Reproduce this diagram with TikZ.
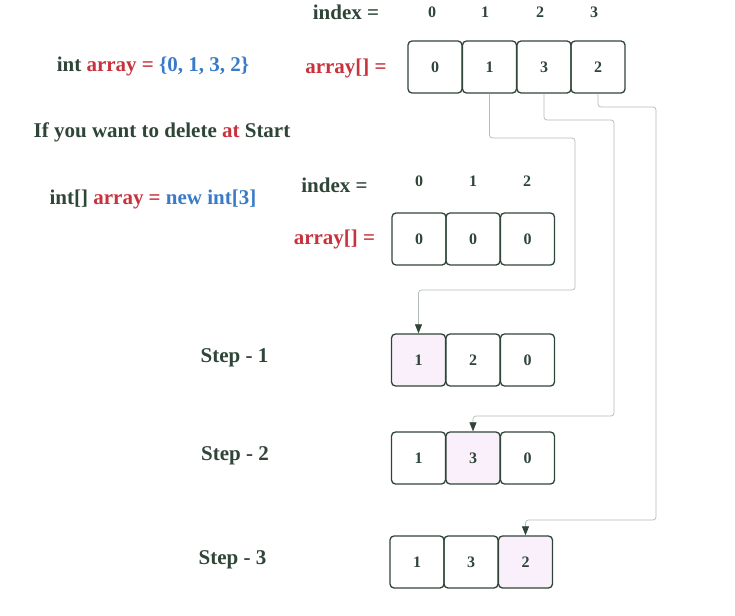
\documentclass[tikz,border=0pt]{standalone}
\usepackage{fontspec}
\setmainfont{Liberation Serif}
\usetikzlibrary{arrows.meta}
\definecolor{dk}{HTML}{2F4538}
\definecolor{rd}{HTML}{C8323C}
\definecolor{bl}{HTML}{3A7BC8}
\definecolor{pk}{HTML}{FAF0FC}
\definecolor{ln}{HTML}{B4BAB4}
\tikzset{
  cell/.style={draw=dk, line width=1.3pt, rounded corners=4pt, minimum width=54pt, minimum height=52pt, inner sep=0pt, text=dk, font=\bfseries\fontsize{16}{18}\selectfont},
  hl/.style={cell, fill=pk},
  lbl/.style={inner sep=0pt, text=dk, font=\bfseries\fontsize{21}{24}\selectfont, text height=0.7em, text depth=0.22em},
  idx/.style={inner sep=0pt, text=dk, font=\bfseries\fontsize{16}{18}\selectfont},
  conn/.style={draw=ln, line width=0.7pt, rounded corners=3pt, -{Triangle[length=9pt,width=7pt,color=dk]}}
}
\begin{document}
\begin{tikzpicture}[x=1pt,y=-1pt]
\useasboundingbox (0,0) rectangle (735,615);
% top
\node[lbl] (ix1) at (346,17) {index =};
\node[idx] (i10) at (432,12) {0};
\node[idx] (i11) at (485,12) {1};
\node[idx] (i12) at (540,12) {2};
\node[idx] (i13) at (594,12) {3};
\node[lbl, text=rd] (ar1) at (346,71) {array[] =};
\node[cell] (a0) at (435,67) {0};
\node[cell] (a1) at (489.5,67) {1};
\node[cell] (a2) at (544,67) {3};
\node[cell] (a3) at (598,67) {2};
\node[lbl] (t1) at (153,69) {int \textcolor{rd}{array =} \textcolor{bl}{\{0, 1, 3, 2\}}};
\node[lbl] (t2) at (162,135) {If you want to delete \textcolor{rd}{at} Start};
\node[lbl] (t3) at (153,202) {int[] \textcolor{rd}{array =} \textcolor{bl}{new int[3]}};
% new array
\node[lbl] (ix2) at (334.5,190) {index =};
\node[idx] (i20) at (419,181) {0};
\node[idx] (i21) at (473,181) {1};
\node[idx] (i22) at (527,181) {2};
\node[lbl, text=rd] (ar2) at (334.5,242) {array[] =};
\node[cell] (b0) at (419,239) {0};
\node[cell] (b1) at (473,239) {0};
\node[cell] (b2) at (527.5,239) {0};
% steps
\node[lbl] (st1) at (234.5,360) {Step - 1};
\node[hl] (s10) at (418.5,360) {1};
\node[cell] (s11) at (473,360) {2};
\node[cell] (s12) at (527.5,360) {0};
\node[lbl] (st2) at (235,458) {Step - 2};
\node[cell] (s20) at (418.5,458) {1};
\node[hl] (s21) at (473,458) {3};
\node[cell] (s22) at (527.5,458) {0};
\node[lbl] (st3) at (232.5,562) {Step - 3};
\node[cell] (s30) at (417,562) {1};
\node[cell] (s31) at (471,562) {3};
\node[hl] (s32) at (525.5,562) {2};
% connectors
\coordinate (c1) at (575,138);
\coordinate (d1) at (575,290);
\coordinate (c2) at (614,120);
\coordinate (d2) at (614,416);
\coordinate (c3) at (656,107);
\coordinate (d3) at (656,520);
\draw[conn] (a1.south) |- (c1) -- (d1) -| (s10.north);
\draw[conn] (a2.south) |- (c2) -- (d2) -| (s21.north);
\draw[conn] (a3.south) |- (c3) -- (d3) -| (s32.north);
\end{tikzpicture}
\end{document}
